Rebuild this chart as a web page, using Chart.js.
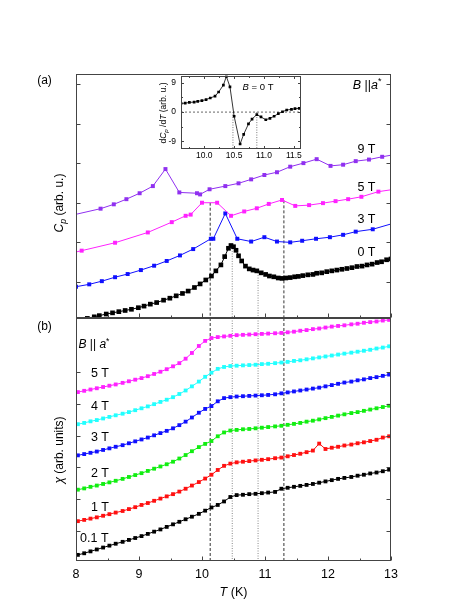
<!DOCTYPE html>
<html>
<head>
<meta charset="utf-8">
<script src="https://cdn.jsdelivr.net/npm/chart.js@4.4.0/dist/chart.umd.min.js"></script>
<style>
  html, body { margin: 0; padding: 0; background: #fff; }
  #wrap { position: relative; width: 469px; height: 607px; }
  #wrap canvas { position: absolute; left: 0; top: 0; }
</style>
</head>
<body>
<div id="wrap">
  <canvas id="chartB" width="469" height="607"></canvas>
  <canvas id="chartA" width="469" height="607"></canvas>
  <canvas id="chartInset" width="469" height="607"></canvas>
</div>
<script>
// ---- data: panel (a), specific heat (arb. u.) ----
const tA9 = [7.95, 8.39, 8.60, 8.80, 9.01, 9.22, 9.42, 9.64, 9.92, 9.97, 10.12, 10.37, 10.58, 10.78, 10.99, 11.19, 11.40, 11.61, 11.82, 12.04, 12.24, 12.44, 12.65, 12.86, 13.07];
const cp9 = [2.69, 2.85, 2.96, 3.09, 3.24, 3.42, 3.85, 3.26, 3.24, 3.21, 3.34, 3.42, 3.49, 3.59, 3.70, 3.77, 3.91, 4.00, 4.10, 3.93, 3.96, 4.05, 4.09, 4.16, 4.22];

const tA5 = [7.60, 8.09, 8.62, 9.14, 9.52, 9.74, 9.82, 10.00, 10.24, 10.46, 10.67, 10.87, 11.06, 11.27, 11.48, 11.70, 11.92, 12.12, 12.32, 12.53, 12.80, 13.10];
const cp5 = [1.61, 1.79, 1.99, 2.25, 2.51, 2.67, 2.70, 3.00, 3.00, 2.67, 2.78, 2.86, 2.97, 3.07, 2.92, 2.94, 2.99, 3.04, 3.09, 3.15, 3.28, 3.35];

const tA3 = [8.00, 8.21, 8.41, 8.62, 8.82, 9.03, 9.24, 9.44, 9.65, 9.86, 10.14, 10.18, 10.37, 10.56, 10.78, 10.99, 11.19, 11.40, 11.59, 11.81, 12.03, 12.24, 12.44, 12.71, 13.10];
const cp3 = [0.88, 0.94, 1.02, 1.12, 1.20, 1.30, 1.41, 1.53, 1.67, 1.83, 2.09, 2.09, 2.73, 2.09, 2.02, 2.13, 2.02, 2.00, 2.04, 2.09, 2.13, 2.19, 2.27, 2.33, 2.51];

const tA0 = [8.08, 8.18, 8.29, 8.37, 8.48, 8.58, 8.68, 8.78, 8.88, 8.99, 9.08, 9.18, 9.28, 9.39, 9.49, 9.59, 9.69, 9.78, 9.88, 9.97,
             10.06, 10.15, 10.22, 10.30, 10.36, 10.42, 10.46, 10.50, 10.54, 10.58, 10.63, 10.69, 10.75, 10.81, 10.87, 10.94, 11.01, 11.07, 11.14, 11.21,
             11.27, 11.33, 11.40, 11.47, 11.53, 11.60, 11.68, 11.76, 11.82, 11.90, 11.98, 12.06, 12.14, 12.22, 12.30, 12.38, 12.46, 12.54, 12.62, 12.70,
             12.78, 12.85, 12.93, 13.00];
const cp0 = [0.03, 0.08, 0.12, 0.15, 0.19, 0.22, 0.25, 0.28, 0.31, 0.35, 0.39, 0.44, 0.48, 0.54, 0.59, 0.65, 0.71, 0.77, 0.86, 0.95,
             1.05, 1.15, 1.28, 1.43, 1.64, 1.85, 1.92, 1.89, 1.80, 1.66, 1.53, 1.40, 1.33, 1.30, 1.28, 1.23, 1.19, 1.15, 1.13, 1.10,
             1.09, 1.10, 1.11, 1.13, 1.14, 1.16, 1.18, 1.19, 1.22, 1.23, 1.26, 1.28, 1.30, 1.32, 1.34, 1.36, 1.39, 1.40, 1.43, 1.45,
             1.49, 1.51, 1.56, 1.58];

// ---- data: panel (b), susceptibility (arb. units) ----
const tB = [8.03, 8.13, 8.23, 8.33, 8.43, 8.53, 8.63, 8.74, 8.84, 8.94, 9.04, 9.14, 9.24, 9.34, 9.44, 9.54, 9.64, 9.74, 9.84, 9.95,
            10.05, 10.15, 10.25, 10.35, 10.45, 10.55, 10.65, 10.75, 10.85, 10.95, 11.05, 11.16, 11.26, 11.36, 11.46, 11.56, 11.66, 11.76, 11.86, 11.96,
            12.06, 12.16, 12.26, 12.37, 12.47, 12.57, 12.67, 12.77, 12.87, 12.97];
const chi5 = [5.37, 5.41, 5.45, 5.49, 5.53, 5.57, 5.61, 5.66, 5.71, 5.76, 5.81, 5.87, 5.94, 6.01, 6.09, 6.18, 6.28, 6.42, 6.60, 6.82,
              6.98, 7.07, 7.10, 7.12, 7.14, 7.16, 7.17, 7.18, 7.19, 7.20, 7.21, 7.22, 7.23, 7.25, 7.27, 7.30, 7.32, 7.35, 7.37, 7.40,
              7.43, 7.45, 7.47, 7.50, 7.52, 7.55, 7.57, 7.59, 7.62, 7.64];
const chi4 = [4.36, 4.40, 4.45, 4.49, 4.54, 4.59, 4.64, 4.69, 4.74, 4.80, 4.86, 4.92, 4.99, 5.06, 5.13, 5.21, 5.31, 5.42, 5.55, 5.70,
              5.85, 5.98, 6.10, 6.16, 6.19, 6.20, 6.21, 6.22, 6.23, 6.25, 6.26, 6.28, 6.30, 6.32, 6.35, 6.37, 6.40, 6.43, 6.46, 6.49,
              6.52, 6.55, 6.58, 6.61, 6.64, 6.67, 6.70, 6.74, 6.77, 6.81];
const chi3 = [3.38, 3.42, 3.46, 3.50, 3.55, 3.60, 3.65, 3.70, 3.76, 3.82, 3.88, 3.94, 4.01, 4.08, 4.15, 4.23, 4.33, 4.44, 4.57, 4.72,
              4.84, 4.93, 5.08, 5.18, 5.21, 5.23, 5.24, 5.25, 5.26, 5.27, 5.28, 5.30, 5.33, 5.36, 5.39, 5.42, 5.45, 5.48, 5.51, 5.55,
              5.59, 5.63, 5.67, 5.70, 5.74, 5.77, 5.81, 5.84, 5.88, 5.92];
const chi2 = [2.30, 2.34, 2.39, 2.43, 2.48, 2.53, 2.58, 2.64, 2.70, 2.76, 2.82, 2.89, 2.96, 3.03, 3.10, 3.18, 3.28, 3.39, 3.51, 3.64,
              3.74, 3.83, 3.98, 4.10, 4.16, 4.18, 4.20, 4.21, 4.23, 4.25, 4.27, 4.29, 4.31, 4.34, 4.37, 4.40, 4.44, 4.47, 4.51, 4.55,
              4.59, 4.63, 4.67, 4.71, 4.74, 4.78, 4.82, 4.86, 4.90, 4.94];
const chi1 = [1.31, 1.35, 1.39, 1.43, 1.48, 1.53, 1.58, 1.63, 1.69, 1.75, 1.82, 1.88, 1.95, 2.02, 2.09, 2.16, 2.24, 2.33, 2.43, 2.54,
              2.65, 2.77, 2.92, 3.05, 3.12, 3.16, 3.18, 3.20, 3.22, 3.24, 3.26, 3.29, 3.31, 3.35, 3.39, 3.43, 3.48, 3.53, 3.75, 3.58,
              3.62, 3.65, 3.69, 3.72, 3.76, 3.79, 3.83, 3.87, 3.94, 3.98];
const chi01 = [0.25, 0.30, 0.36, 0.42, 0.48, 0.54, 0.60, 0.66, 0.72, 0.78, 0.84, 0.91, 0.98, 1.05, 1.13, 1.21, 1.29, 1.37, 1.45, 1.54,
               1.64, 1.74, 1.82, 1.93, 2.07, 2.13, 2.14, 2.16, 2.17, 2.19, 2.21, 2.23, 2.33, 2.36, 2.39, 2.42, 2.45, 2.48, 2.52, 2.56,
               2.60, 2.64, 2.67, 2.70, 2.74, 2.77, 2.81, 2.84, 2.88, 2.93];

// ---- inset: dCp/dT at B = 0 T ----
const tIn = [9.61, 9.68, 9.75, 9.83, 9.89, 9.96, 10.03, 10.10, 10.18, 10.24, 10.32, 10.37, 10.43, 10.50, 10.60, 10.66, 10.74, 10.80, 10.88, 10.95,
             11.03, 11.10, 11.17, 11.24, 11.31, 11.38, 11.46, 11.52, 11.59];
const dCp = [2.64, 2.73, 2.96, 3.05, 3.28, 3.50, 3.82, 4.32, 4.87, 6.14, 8.27, 10.9, 7.73, -1.27, -9.76, -6.81, -3.63, -2.13, -0.76, -1.49,
             -2.35, -1.91, -1.27, -0.45, 0.10, 0.64, 0.83, 1.05, 1.14];
const insetMarkT = [10.48, 10.88];

// transition temperatures (vertical guide lines) and where they start in panel (a)
const refT = [10.13, 10.48, 10.89, 11.30];
const refTopA = [3.00, 1.91, 1.30, 3.06];

// ticks
const xTicks = [8, 9, 10, 11, 12, 13];
const xMinor = [8.5, 9.5, 10.5, 11.5, 12.5];
const yTicksA = [1, 2, 3, 4, 5, 6];
const yTicksB = [1, 2, 3, 4, 5, 6];
const inXTicks = [10.0, 10.5, 11.0, 11.5];
const inXMinor = [9.75, 10.25, 10.75, 11.25];
const inYTicks = [-9, 0, 9];
const inYMinor = [-4.5, 4.5];

const FONT = '"Liberation Sans", Arial, Helvetica, sans-serif';
const refDash = [[3, 2], [1, 1.5], [1, 1.5], [3, 2]];
const refColor = ['#333', '#888', '#888', '#333'];

// draws text made of pieces: [text, flags] with flags i = italic, s = subscript, u = superscript
function richText(ctx, x, y, segs, size, align, rotate) {
  ctx.save();
  ctx.translate(x, y);
  if (rotate) ctx.rotate(-Math.PI / 2);
  ctx.textBaseline = 'middle';
  ctx.textAlign = 'left';
  ctx.fillStyle = '#000';
  const fontOf = f => (f.includes('i') ? 'italic ' : '') + ((f.includes('s') || f.includes('u')) ? size * 0.72 : size) + 'px ' + FONT;
  let w = 0;
  segs.forEach(([t, f = '']) => { ctx.font = fontOf(f); w += ctx.measureText(t).width; });
  let cx = align === 'left' ? 0 : align === 'right' ? -w : -w / 2;
  segs.forEach(([t, f = '']) => {
    ctx.font = fontOf(f);
    const dy = f.includes('s') ? size * 0.3 : f.includes('u') ? -size * 0.3 : 0;
    ctx.fillText(t, cx, dy);
    cx += ctx.measureText(t).width;
  });
  ctx.restore();
}

// frame, inward ticks and text for each panel
const deco = {
  id: 'deco',
  beforeDatasetsDraw(chart, args, o) {
    if (!o.fill) return;
    const a = chart.chartArea;
    chart.ctx.save();
    chart.ctx.fillStyle = o.fill;
    chart.ctx.fillRect(a.left, a.top, a.right - a.left, a.bottom - a.top);
    chart.ctx.restore();
  },
  afterDatasetsDraw(chart, args, o) {
    const { ctx, chartArea: a, scales: { x, y } } = chart;
    const L = Math.round(a.left) + 0.5, R = Math.round(a.right) - 0.5;
    const T = Math.round(a.top) + 0.5, B = Math.round(a.bottom) - 0.5;
    ctx.save();
    ctx.strokeStyle = o.color || '#444';
    ctx.lineWidth = 1;
    ctx.strokeRect(L, T, R - L, B - T);
    ctx.beginPath();
    const xt = (vals, len) => vals.forEach(v => {
      const p = Math.round(x.getPixelForValue(v)) + 0.5;
      if (o.xSides.includes('bottom')) { ctx.moveTo(p, B); ctx.lineTo(p, B - len); }
      if (o.xSides.includes('top')) { ctx.moveTo(p, T); ctx.lineTo(p, T + len); }
    });
    const yt = (vals, len) => vals.forEach(v => {
      const p = Math.round(y.getPixelForValue(v)) + 0.5;
      if (o.ySides.includes('left')) { ctx.moveTo(L, p); ctx.lineTo(L + len, p); }
      if (o.ySides.includes('right')) { ctx.moveTo(R, p); ctx.lineTo(R - len, p); }
    });
    xt(o.xMajor || [], o.major); xt(o.xMinor || [], o.minor);
    yt(o.yMajor || [], o.major); yt(o.yMinor || [], o.minor);
    ctx.stroke();
    ctx.restore();
    (o.texts || []).forEach(t => {
      const px = t.t !== undefined ? x.getPixelForValue(t.t) : t.px;
      const py = t.v !== undefined ? y.getPixelForValue(t.v) : t.py;
      richText(ctx, px, py, t.seg, t.size, t.align || 'center', t.rot);
    });
  }
};

function pts(ts, vs) { return ts.map((t, i) => ({ x: t, y: vs[i] })); }

function series(ts, vs, color, r) {
  return {
    data: pts(ts, vs), borderColor: color, backgroundColor: color, borderWidth: 1,
    pointStyle: 'rect', pointRadius: r, pointBorderWidth: 0, pointHoverRadius: r, tension: 0, order: 1
  };
}

function guide(t, top, bottom, i) {
  return {
    data: [{ x: t, y: top }, { x: t, y: bottom }], borderColor: refColor[i], borderDash: refDash[i],
    borderWidth: 1, pointRadius: 0, pointHoverRadius: 0, order: 5
  };
}

const base = {
  responsive: false, animation: false, devicePixelRatio: 1, events: [],
};

// ---- panel (a) ----
const A_MIN = 0.09, A_MAX = 6.25;
new Chart(document.getElementById('chartA'), {
  type: 'line',
  data: {
    datasets: [
      ...refT.map((t, i) => guide(t, refTopA[i], A_MIN, i)),
      series(tA9, cp9, '#9030f0', 2.8),
      series(tA5, cp5, '#ff22ff', 2.8),
      series(tA3, cp3, '#1010ff', 2.8),
      series(tA0, cp0, '#000000', 3.3)
    ]
  },
  options: {
    ...base,
    layout: { padding: { left: 76, right: 78, top: 74, bottom: 289 } },
    scales: {
      x: { type: 'linear', min: 8, max: 13, display: false },
      y: { type: 'linear', min: A_MIN, max: A_MAX, display: false }
    },
    plugins: {
      legend: { display: false }, tooltip: { enabled: false },
      deco: {
        xMajor: xTicks, xMinor: xMinor, xSides: ['bottom'], yMajor: yTicksA, ySides: ['left', 'right'],
        major: 4, minor: 2,
        texts: [
          { t: 12.61, v: 4.35, seg: [['9 T']], size: 12.5 },
          { t: 12.61, v: 3.39, seg: [['5 T']], size: 12.5 },
          { t: 12.61, v: 2.58, seg: [['3 T']], size: 12.5 },
          { t: 12.61, v: 1.74, seg: [['0 T']], size: 12.5 },
          { t: 12.85, v: 5.97, seg: [['B', 'i'], [' ||'], ['a', 'i'], ['*', 'u']], size: 12.5, align: 'right' },
          { px: 44.5, py: 81, seg: [['(a)']], size: 12 },
          { px: 60, py: 203, seg: [['C', 'i'], ['p', 'is'], [' (arb. u.)']], size: 12, rot: true }
        ]
      }
    }
  },
  plugins: [deco]
});

// ---- panel (b) ----
const B_MIN = 0.057, B_MAX = 7.70;
new Chart(document.getElementById('chartB'), {
  type: 'line',
  data: {
    datasets: [
      ...refT.map((t, i) => guide(t, B_MAX, B_MIN, i)),
      series(tB, chi5, '#ff22ff', 2.7),
      series(tB, chi4, '#22ffff', 2.7),
      series(tB, chi3, '#1010ff', 2.7),
      series(tB, chi2, '#11ee11', 2.7),
      series(tB, chi1, '#ff1010', 2.7),
      series(tB, chi01, '#000000', 2.7)
    ]
  },
  options: {
    ...base,
    layout: { padding: { left: 76, right: 78, top: 318, bottom: 0 } },
    scales: {
      x: {
        type: 'linear', min: 8, max: 13,
        grid: { display: false, drawTicks: false }, border: { display: false },
        ticks: { stepSize: 1, padding: 6, color: '#000', font: { size: 12.5, family: FONT } },
        afterFit: s => { s.height = 46; }
      },
      y: { type: 'linear', min: B_MIN, max: B_MAX, display: false }
    },
    plugins: {
      legend: { display: false }, tooltip: { enabled: false },
      deco: {
        xMajor: xTicks, xMinor: xMinor, xSides: ['bottom'], yMajor: yTicksB, ySides: ['left', 'right'],
        major: 4, minor: 2,
        texts: [
          { t: 8.04, v: 6.85, seg: [['B', 'i'], [' || '], ['a', 'i'], ['*', 'u']], size: 12, align: 'left' },
          { t: 8.38, v: 5.94, seg: [['5 T']], size: 12.5 },
          { t: 8.38, v: 4.92, seg: [['4 T']], size: 12.5 },
          { t: 8.38, v: 3.95, seg: [['3 T']], size: 12.5 },
          { t: 8.38, v: 2.82, seg: [['2 T']], size: 12.5 },
          { t: 8.38, v: 1.75, seg: [['1 T']], size: 12.5 },
          { t: 8.29, v: 0.76, seg: [['0.1 T']], size: 12.5 },
          { px: 44.5, py: 327, seg: [['(b)']], size: 12 },
          { px: 59.5, py: 450, seg: [['\u03c7', 'i'], [' (arb. units)']], size: 12, rot: true },
          { px: 233.5, py: 593, seg: [['T', 'i'], [' (K)']], size: 12.5 }
        ]
      }
    }
  },
  plugins: [deco]
});

// ---- inset ----
const IN_MIN = -11.3, IN_MAX = 11.2;
new Chart(document.getElementById('chartInset'), {
  type: 'line',
  data: {
    datasets: [
      ...insetMarkT.map(t => ({
        data: [{ x: t, y: 0 }, { x: t, y: IN_MIN }], borderColor: '#777', borderDash: [1, 1.5],
        borderWidth: 1, pointRadius: 0, order: 5
      })),
      {
        data: [{ x: 9.61, y: 0 }, { x: 11.62, y: 0 }], borderColor: '#666', borderDash: [2, 2],
        borderWidth: 1, pointRadius: 0, order: 5
      },
      {
        data: pts(tIn, dCp), borderColor: '#000', backgroundColor: '#000', borderWidth: 0.8,
        pointStyle: 'rect', pointRadius: 1.9, pointBorderWidth: 0, tension: 0, order: 1
      }
    ]
  },
  options: {
    ...base,
    layout: { padding: { left: 150, right: 168, top: 75.5, bottom: 446 } },
    scales: {
      x: {
        type: 'linear', min: 9.61, max: 11.62,
        grid: { display: false, drawTicks: false }, border: { display: false },
        ticks: { stepSize: 0.5, includeBounds: false, padding: 2, color: '#000', font: { size: 8.5, family: FONT },
                 callback: v => v.toFixed(1) },
        afterFit: s => { s.height = 12; }
      },
      y: {
        type: 'linear', min: IN_MIN, max: IN_MAX,
        grid: { display: false, drawTicks: false }, border: { display: false },
        ticks: { stepSize: 9, includeBounds: false, padding: 5, color: '#000', font: { size: 8.5, family: FONT },
                 callback: v => String(v) },
        afterFit: s => { s.width = 31; }
      }
    },
    plugins: {
      legend: { display: false }, tooltip: { enabled: false },
      deco: {
        fill: '#fff',
        xMajor: inXTicks, xMinor: inXMinor, xSides: ['bottom', 'top'], yMajor: inYTicks, yMinor: inYMinor,
        ySides: ['left', 'right'], major: 2.5, minor: 1.5,
        texts: [
          { t: 10.9, v: 7.7, seg: [['B', 'i'], [' = 0 T']], size: 9.5 },
          { px: 164, py: 113, seg: [['d'], ['C', 'i'], ['p', 'is'], [' /d'], ['T', 'i'], [' (arb. u.)']], size: 8.5, rot: true }
        ]
      }
    }
  },
  plugins: [deco]
});
</script>
</body>
</html>
